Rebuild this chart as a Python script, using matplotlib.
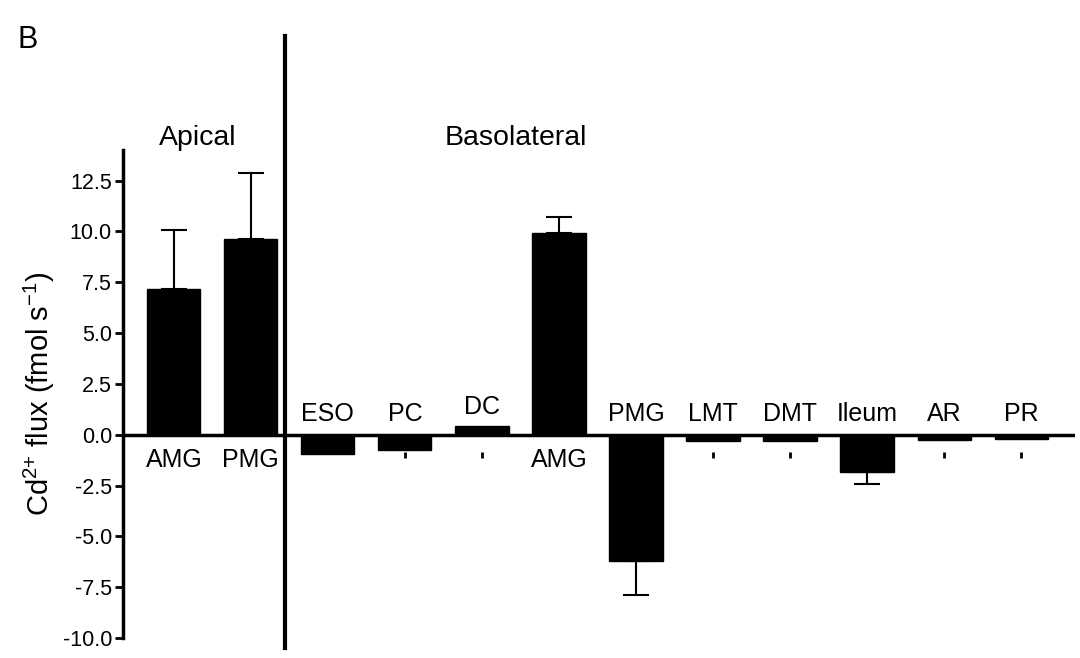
import matplotlib
matplotlib.use("Agg")
import matplotlib.pyplot as plt
import numpy as np

plt.rcParams['font.family'] = ['Liberation Sans', 'DejaVu Sans']
plt.rcParams['mathtext.fontset'] = 'custom'
plt.rcParams['mathtext.rm'] = 'Liberation Sans'
plt.rcParams['mathtext.it'] = 'Liberation Sans'
plt.rcParams['mathtext.default'] = 'regular'

# ---- data ----
labels = ["AMG", "PMG", "ESO", "PC", "DC", "AMG", "PMG", "LMT", "DMT", "Ileum", "AR", "PR"]
values = [7.15, 9.6, -0.95, -0.75, 0.45, 9.9, -6.2, -0.3, -0.3, -1.85, -0.25, -0.2]
errors = [2.9, 3.25, 0.0, 0.0, 0.0, 0.8, 1.7, 0.0, 0.0, 0.6, 0.0, 0.0]
small_marks = [3, 4, 7, 8, 10, 11]   # bars with tiny marks drawn below the axis
group_titles = ["Apical", "Basolateral"]
yticks = [-10.0, -7.5, -5.0, -2.5, 0.0, 2.5, 5.0, 7.5, 10.0, 12.5]

fig = plt.figure(figsize=(10.8, 6.58), dpi=100)
ax = fig.add_axes([0.1139, 0.0304, 0.8815, 0.7416])

x = np.arange(len(values))
ax.bar(x, values, width=0.69, color='black', edgecolor='black', linewidth=1, zorder=2)

# one-sided error bars
for xi, v, e in zip(x, values, errors):
    if e > 0:
        ax.errorbar([xi], [v], yerr=[[0], [e]] if v >= 0 else [[e], [0]],
                    fmt='none', ecolor='black', elinewidth=1.5, capsize=9.5,
                    capthick=1.5, zorder=1)

# tiny marks
ax.plot(x[small_marks], [-1.0] * len(small_marks), linestyle='none', marker='|',
        markersize=5, markeredgewidth=2, color='black')

# category labels
for xi, v, lab in zip(x, values, labels):
    if xi in (0, 1, 5):
        ax.text(xi, -1.25, lab, ha='center', va='center', fontsize=18)
    elif lab == "DC":
        ax.text(xi, 1.35, lab, ha='center', va='center', fontsize=18)
    else:
        ax.text(xi, 1.0, lab, ha='center', va='center', fontsize=18)

ax.axhline(0, color='black', linewidth=2.5, zorder=3)

ax.set_xlim(-0.66, 11.7)
ax.set_ylim(-10, 14.0)
ax.set_yticks(yticks)
ax.set_yticklabels([f"{t:.1f}" for t in yticks])
ax.set_xticks([])
for s in ['top', 'right', 'bottom']:
    ax.spines[s].set_visible(False)
ax.spines['left'].set_linewidth(2.5)
ax.tick_params(axis='y', length=6, width=2, labelsize=15.5, pad=2)

ax.set_ylabel("Cd$^{2{+}}$ flux (fmol s$^{-1}$)", fontsize=21, labelpad=4)

# divider line
ax.plot([1.44, 1.44], [-10.5, 19.6], color='black', linewidth=3, clip_on=False)

# group titles
fig.text(198 / 1080, 1 - 138 / 658, group_titles[0], ha='center', va='center', fontsize=20.5)
fig.text(516 / 1080, 1 - 138 / 658, group_titles[1], ha='center', va='center', fontsize=20.5)
fig.text(28 / 1080, 1 - 40 / 658, "B", ha='center', va='center', fontsize=22)

fig.savefig("out.png", dpi=100)
